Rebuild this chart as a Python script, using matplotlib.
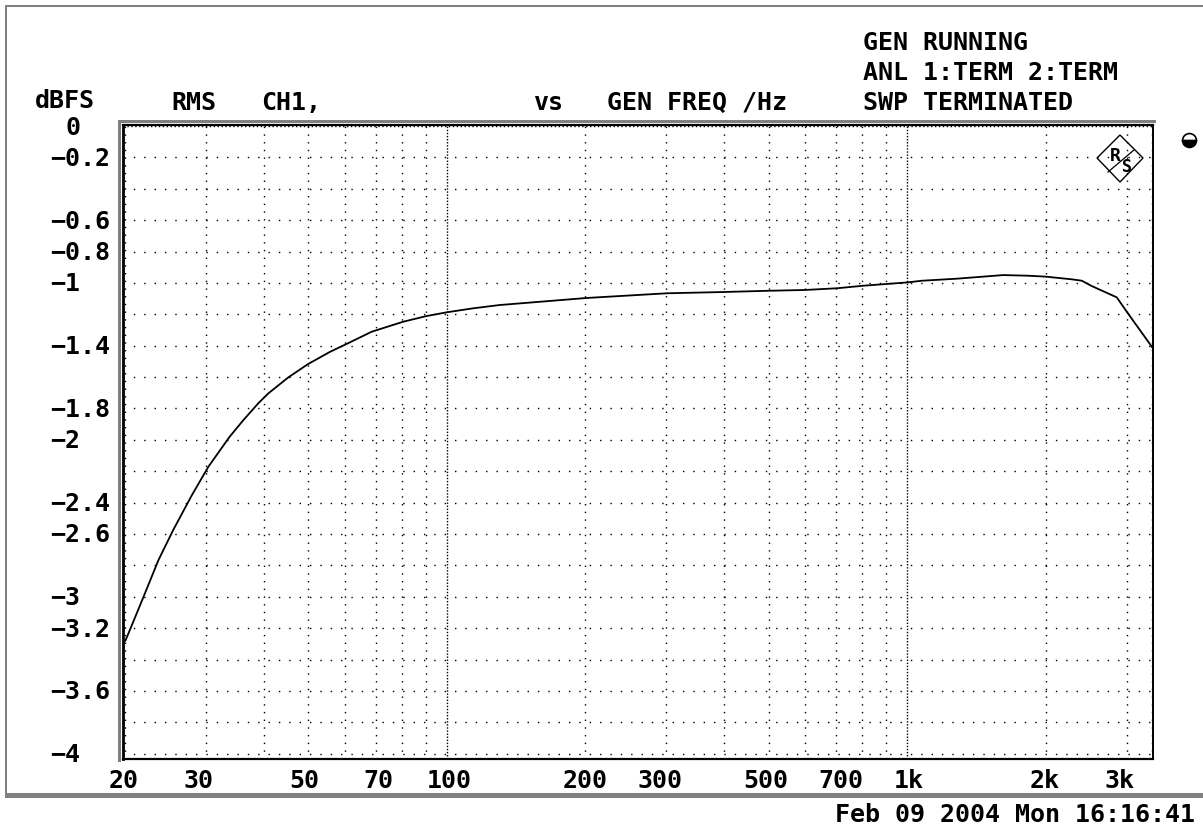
import matplotlib
matplotlib.use("Agg")
import matplotlib.pyplot as plt
from matplotlib.lines import Line2D
from matplotlib.patches import Rectangle, Polygon
from matplotlib.transforms import ScaledTranslation

# ---- data ----
freq_hz = [20, 21, 21.9, 23.6, 25.4, 27.9, 30.3, 33.7, 36.1, 38.9, 40.9, 45.2, 49.9, 55.7,
           60.5, 68.6, 80.4, 90.3, 100, 113.9, 130, 201, 301, 398, 501, 600, 705, 802, 900,
           1000, 1078, 1283, 1463, 1617, 1832, 2002, 2280, 2399, 2521, 2857, 3004, 3427]
level_dbfs = [-3.28, -3.13, -3.00, -2.766, -2.575, -2.352, -2.171, -1.98, -1.874, -1.767,
              -1.704, -1.602, -1.517, -1.439, -1.389, -1.311, -1.247, -1.211, -1.187, -1.162,
              -1.141, -1.096, -1.066, -1.058, -1.05, -1.045, -1.034, -1.018, -1.007, -0.997,
              -0.986, -0.973, -0.96, -0.95, -0.954, -0.96, -0.977, -0.986, -1.02, -1.092,
              -1.184, -1.418]

x_ticks = [20, 30, 50, 70, 100, 200, 300, 500, 700, 1000, 2000, 3000]
x_labels = ["20", "30", "50", "70", "100", "200", "300", "500", "700", "1k", "2k", "3k"]
y_ticks = [0, -0.2, -0.6, -0.8, -1, -1.4, -1.8, -2, -2.4, -2.6, -3, -3.2, -3.6, -4]
y_labels = ["0", "\u22120.2", "\u22120.6", "\u22120.8", "\u22121", "\u22121.4", "\u22121.8",
            "\u22122", "\u22122.4", "\u22122.6", "\u22123", "\u22123.2", "\u22123.6", "\u22124"]
grid_x = [20, 30, 40, 50, 60, 70, 80, 90, 200, 300, 400, 500, 600, 700, 800, 900, 2000, 3000, 3415]
grid_x_major = [100, 1000]
grid_y = [-0.2, -0.4, -0.6, -0.8, -1.0, -1.2, -1.4, -1.6, -1.8, -2.0, -2.2, -2.4, -2.6, -2.8,
          -3.0, -3.2, -3.4, -3.6, -3.8, -4.0]

# ---- style ----
W, H = 1203, 827
FONT = "DejaVu Sans Mono"
FS = 18
plt.rcParams["font.family"] = FONT
plt.rcParams["font.weight"] = "bold"
dot_lw = 1.4 * 0.72

fig = plt.figure(figsize=(W / 100, H / 100), dpi=100, facecolor="white")


def fx(x):
    return x / W


def fy(y):
    return 1 - y / H


def band(x0, y0, x1, y1, color="#808080"):
    fig.add_artist(Rectangle((fx(x0), fy(y1)), (x1 - x0) / W, (y1 - y0) / H,
                             transform=fig.transFigure, facecolor=color, edgecolor="none"))


# outer frame
band(5, 5, 1203, 7)
band(5, 5, 7, 798)
band(5, 793, 1203, 798)
# gray shadow of the plot frame
band(118, 120, 1156, 123)
band(118, 120, 121, 762)

ax = fig.add_axes([fx(123), fy(759), (1153 - 123) / W, (759 - 124.5) / H])
ax.set_xscale("log")
ax.set_xlim(19.76, 3425)
ax.set_ylim(-4.034, 0.0096)
ax.minorticks_off()

for v in grid_y:
    ax.axhline(v, color="black", lw=dot_lw, ls=(0, (1, 6.4)), zorder=1)
ax.axhline(0, color="black", lw=dot_lw, ls=(0, (1, 1.8)), zorder=1)
for f in grid_x:
    ax.axvline(f, color="black", lw=dot_lw, ls=(0, (1, 4.5)), zorder=1)
for f in grid_x_major:
    ax.axvline(f, color="black", lw=dot_lw, ls=(0, (1, 1.2)), zorder=1)

ax.plot(freq_hz, level_dbfs, color="black", lw=1.3, zorder=3)

for name, width in (("left", 2.0), ("right", 1.4), ("top", 1.6), ("bottom", 1.6)):
    ax.spines[name].set_linewidth(width)

ax.set_xticks(x_ticks)
ax.set_xticklabels(x_labels, fontsize=FS, fontweight="bold", family=FONT)
ax.set_yticks(y_ticks)
ax.set_yticklabels(y_labels, fontsize=FS, fontweight="bold", family=FONT)
ax.tick_params(axis="x", which="both", length=0, pad=7.5)
ax.tick_params(axis="y", which="both", length=0, pad=52.5)
ax.xaxis.set_tick_params(which="minor", length=0)

x_label_shift = [-1.5, -7.5, -4, 3, 2.5, 0, -6, -3, 5, 2, -1, -7]
for lab, dx in zip(ax.get_xticklabels(), x_label_shift):
    lab.set_transform(lab.get_transform() + ScaledTranslation(dx / 100, 0, fig.dpi_scale_trans))
for lab, txt in zip(ax.get_yticklabels(), y_labels):
    lab.set_ha("left")
    dx = 15 if txt == "0" else 0
    lab.set_transform(lab.get_transform() + ScaledTranslation(dx / 100, 1 / 100, fig.dpi_scale_trans))


def label(x, y, s):
    fig.text(fx(x), fy(y), s, fontsize=FS, fontweight="bold", family=FONT, va="baseline", ha="left")


label(35, 108, "dBFS")
label(171, 110, "RMS")
label(261, 110, "CH1,")
label(533, 110, "vs")
label(607, 110, "GEN FREQ /Hz")
label(863, 50, "GEN RUNNING")
label(863, 80, "ANL 1:TERM 2:TERM")
label(863, 110, "SWP TERMINATED")
label(835, 822, "Feb 09 2004 Mon 16:16:41")

# R&S logo
fig.add_artist(Polygon([(fx(1097), fy(158)), (fx(1120), fy(135)), (fx(1143), fy(158)), (fx(1120), fy(182))],
                       closed=True, fill=False, edgecolor="black", lw=1.0, transform=fig.transFigure, zorder=5))
fig.text(fx(1115), fy(161), "R", fontsize=13, family=FONT, ha="center", va="baseline", zorder=5)
fig.text(fx(1127), fy(172), "S", fontsize=12, family=FONT, ha="center", va="baseline", zorder=5)
fig.add_artist(Line2D([fx(1108), fx(1134)], [fy(172), fy(150)], color="black", lw=0.9, transform=fig.transFigure, zorder=5))

# status marker on the right
fig.add_artist(Line2D([fx(1189)], [fy(140)], marker="o", fillstyle="bottom", markersize=10,
                      markeredgewidth=1.2, color="black", markerfacecolor="black", markerfacecoloralt="white",
                      linestyle="none", transform=fig.transFigure))

fig.savefig("out.png", dpi=100, facecolor="white")
